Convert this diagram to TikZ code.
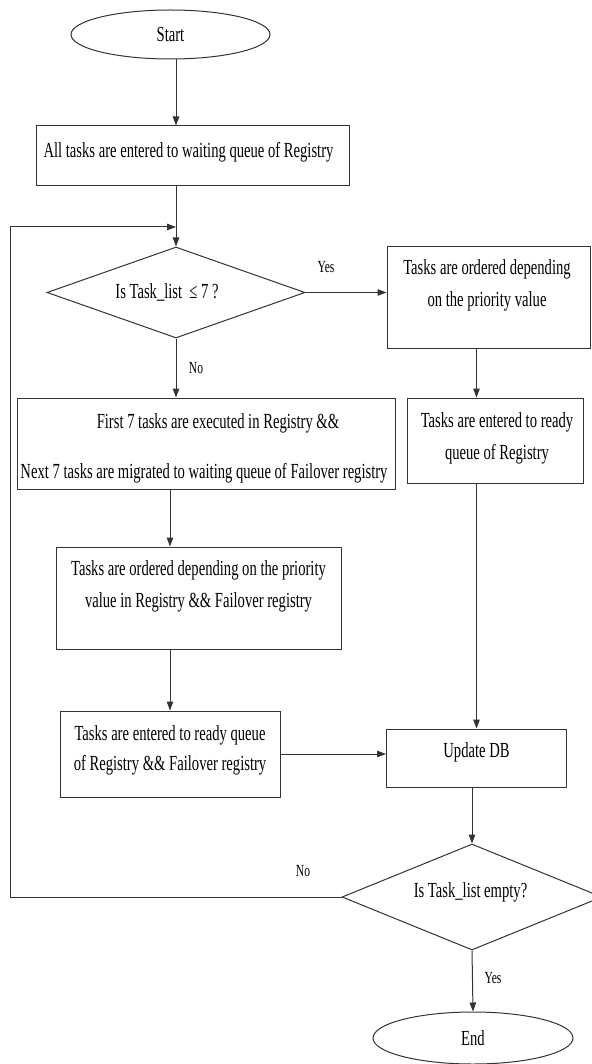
\documentclass[tikz,border=0pt]{standalone}
\usepackage{fontspec}
\setmainfont{Liberation Serif}[FakeStretch=0.68]
\usetikzlibrary{shapes.geometric,arrows.meta}

\newcommand\flowtext{\fontsize{21.5}{32}\selectfont}
\newcommand\flowlabel{\fontsize{17}{20}\selectfont}

\begin{document}
\begin{tikzpicture}[x=1pt,y=-1pt,
  line/.style={draw=black!80, line width=1pt},
  arr/.style={line, -{Triangle[length=9pt,width=6.5pt]}},
  box/.style={line, rectangle, inner sep=0pt},
  term/.style={line, ellipse, inner sep=0pt, font=\flowtext},
  cond/.style={line, diamond, aspect=2.6, inner sep=0pt, font=\flowtext},
  txt/.style={align=center, inner sep=0pt, font=\flowtext},
  lbl/.style={inner sep=0pt, font=\flowlabel}]

\useasboundingbox (0,0) rectangle (591,1064);

% terminals
\node[term, minimum width=199pt, minimum height=49pt] (start) at (170.5,34.5) {Start};
\node[term, minimum width=200pt, minimum height=52pt] (end) at (473,1038) {End};

% left column
\node[box, minimum width=313pt, minimum height=60pt] (box1) at (192.5,156) {};
\node[txt] (box1t) at (188.5,152) {All tasks are entered to waiting queue of Registry};

\node[cond, minimum width=258pt, minimum height=91pt] (d1) at (176,292.5) {};
\node[txt] (d1t) at (167,292) {Is Task\_list \ ≤ 7 ?};

\node[box, minimum width=378pt, minimum height=91pt] (f7) at (206,443.5) {};
\node[txt] (f7a) at (218,423) {First 7 tasks are executed in Registry \&\&};
\node[txt] (f7b) at (204,473) {Next 7 tasks are migrated to waiting queue of Failover registry};

\node[box, minimum width=285pt, minimum height=102pt] (ob) at (199,598) {};
\node[txt] (obt) at (198.5,586.5) {Tasks are ordered depending on the priority\\value in Registry \&\& Failover registry};

\node[box, minimum width=220pt, minimum height=86pt] (eb) at (170,754) {};
\node[txt, baseline=0pt] (ebt) at (170,750) {Tasks are entered to ready queue\\[-2pt]of Registry \&\& Failover registry};

% right column
\node[box, minimum width=203pt, minimum height=101pt] (r1) at (488.5,297.5) {};
\node[txt] (r1t) at (487,285.5) {Tasks are ordered depending\\on the priority value};

\node[box, minimum width=176pt, minimum height=85pt] (r2) at (495,440.5) {};
\node[txt] (r2t) at (497,438.5) {Tasks are entered to ready\\queue of Registry};

\node[box, minimum width=180pt, minimum height=58pt] (udb) at (476.5,758) {};
\node[txt] (udbt) at (476.5,752) {Update DB};

\node[cond, minimum width=260pt, minimum height=106pt] (d2) at (472,897) {};
\node[txt] (d2t) at (470.5,892) {Is Task\_list empty?};

% branch labels
\node[lbl] (yes1) at (326,267) {Yes};
\node[lbl] (no1) at (196,368) {No};
\node[lbl] (no2) at (303,871) {No};
\node[lbl] (yes2) at (493,978) {Yes};

% loop-back corners
\coordinate (lpb) at (10.5,897);
\coordinate (lpt) at (10.5,227);
\coordinate (join) at (176,227);

% connectors
\draw[arr] (d1.north |- start.south) -- (d1.north |- box1.north);
\draw[arr] (d1.north |- box1.south) -- (d1.north);
\draw[arr] (d1.east) -- (d1.east -| r1.west);
\draw[arr] (d1.south) -- (d1.south |- f7.north);
\draw[arr] (eb.north |- f7.south) -- (eb.north |- ob.north);
\draw[arr] (eb.north |- ob.south) -- (eb.north);
\draw[arr] (eb.east) -- (eb.east -| udb.west);
\draw[arr] (udb.north |- r1.south) -- (udb.north |- r2.north);
\draw[arr] (udb.north |- r2.south) -- (udb.north);
\draw[arr] (d2.north |- udb.south) -- (d2.north);
\draw[arr] (d2.south) -- (end.north);
\draw[arr] (d2.west) -- (lpb) -- (lpt) -- (join);
\end{tikzpicture}
\end{document}
